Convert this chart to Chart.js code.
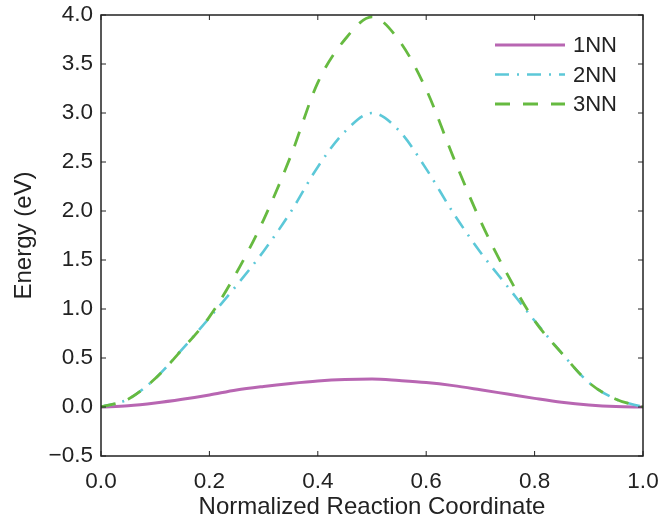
<!DOCTYPE html>
<html>
<head>
<meta charset="utf-8">
<script src="https://cdn.jsdelivr.net/npm/chart.js@4.4.1/dist/chart.umd.min.js"></script>
<style>
  html, body { margin: 0; padding: 0; background: #fff; }
</style>
</head>
<body>
<canvas id="myChart" width="663" height="519"></canvas>
<script>
// reaction coordinate samples
const coords = [0, 0.05, 0.1, 0.15, 0.2, 0.25, 0.3, 0.35, 0.4, 0.45, 0.5,
  0.55, 0.6, 0.65, 0.7, 0.75, 0.8, 0.85, 0.9, 0.95, 1.0];

// energies (eV)
const nn1 = [0, 0.012, 0.04, 0.078, 0.123, 0.174, 0.21, 0.24, 0.265, 0.28, 0.285,
  0.27, 0.25, 0.218, 0.176, 0.132, 0.088, 0.048, 0.02, 0.004, 0];
const nn2 = [0, 0.08, 0.29, 0.59, 0.91, 1.24, 1.59, 1.99, 2.45, 2.81, 3.0,
  2.82, 2.43, 1.98, 1.58, 1.23, 0.88, 0.55, 0.25, 0.08, 0];
const nn3 = [0, 0.08, 0.29, 0.59, 0.92, 1.37, 1.91, 2.56, 3.31, 3.75, 3.98,
  3.74, 3.24, 2.55, 1.9, 1.35, 0.88, 0.55, 0.25, 0.08, 0];

const seriesNames = ["1NN", "2NN", "3NN"];
const xTicks = [0, 0.2, 0.4, 0.6, 0.8, 1.0];
const yTicks = [-0.5, 0, 0.5, 1.0, 1.5, 2.0, 2.5, 3.0, 3.5, 4.0];

const FONT = "'Liberation Sans', Arial, Helvetica, sans-serif";
const INK = "#222";

const toPoints = (vals) => coords.map((c, i) => ({ x: c, y: vals[i] }));

// box frame, inward ticks on all four sides, and the legend inside the plot
const framePlugin = {
  id: "frame",
  afterDatasetsDraw(chart) {
    const { ctx, chartArea: a, scales } = chart;
    ctx.save();
    ctx.strokeStyle = INK;
    ctx.lineWidth = 1.5;
    ctx.strokeRect(a.left, a.top, a.right - a.left, a.bottom - a.top);

    ctx.lineWidth = 1;
    ctx.beginPath();
    xTicks.forEach((v) => {
      const px = scales.x.getPixelForValue(v);
      ctx.moveTo(px, a.bottom); ctx.lineTo(px, a.bottom - 5);
      ctx.moveTo(px, a.top); ctx.lineTo(px, a.top + 5);
    });
    yTicks.forEach((v) => {
      const py = scales.y.getPixelForValue(v);
      ctx.moveTo(a.left, py); ctx.lineTo(a.left + 5, py);
      ctx.moveTo(a.right, py); ctx.lineTo(a.right - 5, py);
    });
    ctx.stroke();

    // legend
    ctx.font = "22px " + FONT;
    ctx.textBaseline = "middle";
    ctx.textAlign = "left";
    chart.data.datasets.forEach((ds, i) => {
      const y = a.top + 30 + i * 29.5;
      const x0 = a.right - 148;
      ctx.strokeStyle = ds.borderColor;
      ctx.lineWidth = ds.borderWidth;
      ctx.setLineDash(ds.borderDash || []);
      ctx.beginPath();
      ctx.moveTo(x0, y);
      ctx.lineTo(x0 + 70, y);
      ctx.stroke();
      ctx.setLineDash([]);
      ctx.fillStyle = INK;
      ctx.fillText(ds.label, x0 + 78, y + 1);
    });
    ctx.restore();
  },
};

Chart.defaults.font.family = FONT;
Chart.defaults.color = INK;

new Chart(document.getElementById("myChart").getContext("2d"), {
  type: "line",
  data: {
    datasets: [
      {
        label: seriesNames[0],
        data: toPoints(nn1),
        borderColor: "rgb(184, 102, 178)",
        borderWidth: 3,
        order: 2,
      },
      {
        label: seriesNames[1],
        data: toPoints(nn2),
        borderColor: "rgb(92, 200, 216)",
        borderWidth: 2.6,
        borderDash: [14, 8, 2, 8],
        order: 1,
      },
      {
        label: seriesNames[2],
        data: toPoints(nn3),
        borderColor: "rgb(102, 186, 64)",
        borderWidth: 2.8,
        borderDash: [15, 13],
        order: 0,
      },
    ],
  },
  options: {
    responsive: false,
    animation: false,
    layout: { padding: { top: 15, right: 20, left: 0, bottom: 0 } },
    elements: {
      point: { radius: 0 },
      line: { cubicInterpolationMode: "monotone", fill: false },
    },
    plugins: {
      legend: { display: false },
      tooltip: { enabled: false },
    },
    scales: {
      x: {
        type: "linear",
        min: 0,
        max: 1,
        afterBuildTicks: (s) => { s.ticks = xTicks.map((v) => ({ value: v })); },
        afterFit: (s) => { s.height = 63; s.paddingLeft = 0; s.paddingRight = 0; },
        grid: { display: false, drawTicks: false },
        border: { display: false },
        ticks: {
          padding: 12,
          maxRotation: 0,
          font: { size: 22.5 },
          callback: (v) => v.toFixed(1),
        },
        title: {
          display: true,
          text: "Normalized Reaction Coordinate",
          font: { size: 24, lineHeight: 1.0 },
          padding: { top: 0, bottom: 0 },
        },
      },
      y: {
        min: -0.5,
        max: 4,
        afterBuildTicks: (s) => { s.ticks = yTicks.map((v) => ({ value: v })); },
        afterFit: (s) => { s.width = 101; s.paddingTop = 0; s.paddingBottom = 0; },
        grid: { display: false, drawTicks: false },
        border: { display: false },
        ticks: {
          padding: 8,
          font: { size: 22.5 },
          callback: (v) => (v < 0 ? "\u2212" + (-v).toFixed(1) : v.toFixed(1)),
        },
        title: {
          display: true,
          text: "Energy (eV)",
          font: { size: 24 },
          padding: { top: 10, bottom: 0 },
        },
      },
    },
  },
  plugins: [framePlugin],
});
</script>
</body>
</html>
